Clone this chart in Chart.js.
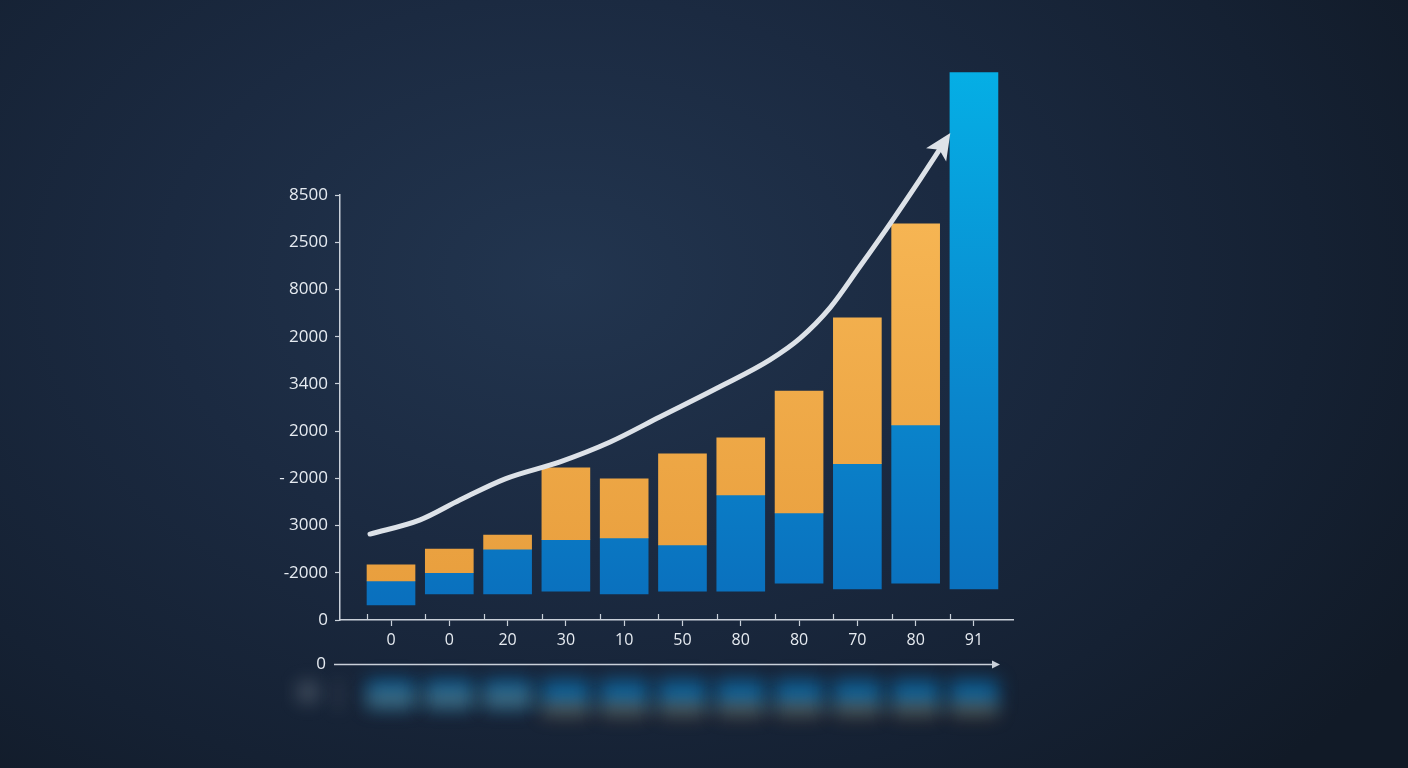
<!DOCTYPE html>
<html>
<head>
<meta charset="utf-8">
<script src="https://cdn.jsdelivr.net/npm/chart.js@4.4.1/dist/chart.umd.min.js"></script>
<style>
  html, body { margin: 0; padding: 0; }
  body {
    width: 1408px; height: 768px; overflow: hidden;
    background: radial-gradient(ellipse 1000px 700px at 40% 36%, #22354f 0%, #1b2a41 40%, #152133 75%, #111a27 100%);
  }
  #wrap { position: absolute; left: 0; top: 0; width: 1408px; height: 768px; }
</style>
</head>
<body>
<div id="wrap"><canvas id="growth"></canvas></div>
<script>
// category labels under the bars
const xLabels = ["0", "0", "20", "30", "10", "50", "80", "80", "70", "80", "91"];
// y tick labels, bottom to top (as printed)
const yTickLabels = ["0", "-2000", "3000", "- 2000", "2000", "3400", "2000", "8000", "2500", "8500"];

// floating bars, in y-tick units
const blueLow = [0.32, 0.55, 0.55, 0.61, 0.55, 0.61, 0.61, 0.78, 0.66, 0.78, 0.66];
const blueHigh = [0.83, 1.00, 1.50, 1.70, 1.74, 1.59, 2.65, 2.27, 3.31, 4.13, 11.59];
const orangeHigh = [1.17, 1.50, 1.80, 3.22, 2.99, 3.52, 3.86, 4.85, 6.40, 8.39, null];

// trend curve points
const trendX = [-0.36, 0.50, 1.18, 1.96, 2.90, 3.76, 4.61, 5.64, 6.50, 7.02, 7.53, 8.04, 8.56, 9.07, 9.52];
const trendY = [1.82, 2.12, 2.54, 2.99, 3.35, 3.77, 4.30, 4.94, 5.51, 5.97, 6.61, 7.48, 8.39, 9.32, 10.17];

const textColor = "#e6ebf1";
const axisColor = "#c9d0d9";

function blueFill(ctx) {
  const c = ctx.chart.ctx;
  const g = c.createLinearGradient(0, 60, 0, 610);
  g.addColorStop(0, "#05b0e6");
  g.addColorStop(0.6, "#0a87cd");
  g.addColorStop(1, "#0a6fbd");
  return g;
}
function orangeFill(ctx) {
  const c = ctx.chart.ctx;
  const g = c.createLinearGradient(0, 220, 0, 600);
  g.addColorStop(0, "#f6b553");
  g.addColorStop(1, "#e89e3d");
  return g;
}

// extras: arrow head, small upper ticks, lower arrow axis, blurred reflection
const decor = {
  id: "decor",
  beforeDatasetsDraw(chart) {
    const { ctx, chartArea } = chart;
    const blue = chart.getDatasetMeta(0).data;
    const orange = chart.getDatasetMeta(1).data;
    // reflection
    ctx.save();
    ctx.filter = "blur(9px)";
    const ry = chartArea.bottom + 60;
    blue.forEach(b => {
      ctx.globalAlpha = 0.6;
      ctx.fillStyle = "#0a86d0";
      ctx.fillRect(b.x - b.width / 2, ry, b.width, 28);
    });
    orange.forEach((b, i) => {
      if (b.skip) return;
      ctx.globalAlpha = i < 3 ? 0.3 : 0.35;
      ctx.fillStyle = "#c98f4a";
      ctx.fillRect(b.x - b.width / 2, ry + (i < 3 ? 12 : 22), b.width, 14);
    });
    ctx.globalAlpha = 0.25;
    ctx.fillStyle = "#c9d0d9";
    ctx.fillRect(chartArea.left - 42, ry + 2, 20, 20);
    ctx.fillRect(chartArea.left - 4, ry, 4, 30);
    ctx.restore();
  },
  afterDatasetsDraw(chart) {
    const { ctx, chartArea } = chart;
    const blue = chart.getDatasetMeta(0).data;
    // small ticks above the x axis at bar left edges
    ctx.save();
    ctx.strokeStyle = axisColor;
    ctx.lineWidth = 1.2;
    blue.forEach(b => {
      const x = Math.round(b.x - b.width / 2) + 0.5;
      ctx.beginPath();
      ctx.moveTo(x, chartArea.bottom);
      ctx.lineTo(x, chartArea.bottom - 6);
      ctx.stroke();
    });
    // lower arrow axis
    const ay = chartArea.bottom + 44.5;
    ctx.lineWidth = 1.5;
    ctx.beginPath();
    ctx.moveTo(chartArea.left - 6, ay);
    ctx.lineTo(chartArea.right - 16, ay);
    ctx.stroke();
    ctx.fillStyle = axisColor;
    ctx.beginPath();
    ctx.moveTo(chartArea.right - 13, ay);
    ctx.lineTo(chartArea.right - 21, ay - 4);
    ctx.lineTo(chartArea.right - 21, ay + 4);
    ctx.closePath();
    ctx.fill();
    ctx.fillStyle = textColor;
    ctx.font = "17px 'Open Sans'";
    ctx.textAlign = "right";
    ctx.textBaseline = "middle";
    ctx.fillText("0", chartArea.left - 14, ay);
    // arrow head on the trend curve
    const pts = chart.getDatasetMeta(2).data;
    const p1 = pts[pts.length - 2], p2 = pts[pts.length - 1];
    const ang = Math.atan2(p2.y - p1.y, p2.x - p1.x);
    const tipX = p2.x + Math.cos(ang) * 8, tipY = p2.y + Math.sin(ang) * 8;
    ctx.fillStyle = "#dde2e8";
    ctx.translate(tipX, tipY);
    ctx.rotate(ang);
    ctx.beginPath();
    ctx.moveTo(0, 0);
    ctx.lineTo(-26, -12);
    ctx.lineTo(-20, 0);
    ctx.lineTo(-26, 12);
    ctx.closePath();
    ctx.fill();
    ctx.restore();
  }
};

new Chart(document.getElementById("growth"), {
  type: "bar",
  data: {
    datasets: [
      {
        label: "blue",
        data: blueLow.map((v, i) => ({ x: i, y: [v, blueHigh[i]] })),
        backgroundColor: blueFill,
        barThickness: 48,
        grouped: false,
        clip: false,
        order: 2
      },
      {
        label: "orange",
        data: orangeHigh.map((v, i) => ({ x: i, y: v == null ? null : [blueHigh[i], v] })),
        backgroundColor: orangeFill,
        barThickness: 48,
        grouped: false,
        clip: false,
        order: 1
      },
      {
        type: "line",
        label: "trend",
        data: trendX.map((x, i) => ({ x: x, y: trendY[i] })),
        borderColor: "#dde2e8",
        borderWidth: 5,
        pointRadius: 0,
        tension: 0.4,
        cubicInterpolationMode: "monotone",
        borderCapStyle: "round",
        clip: false,
        order: 0
      }
    ]
  },
  options: {
    responsive: true,
    maintainAspectRatio: false,
    animation: false,
    layout: { padding: { left: 270, right: 395, top: 195, bottom: 108 } },
    plugins: { legend: { display: false }, tooltip: { enabled: false } },
    scales: {
      x: {
        type: "linear",
        offset: false,
        min: -0.875,
        max: 10.67,
        afterBuildTicks: s => { s.ticks = xLabels.map((_, i) => ({ value: i })); },
        afterFit: s => { s.height = 40; },
        grid: { offset: false, drawOnChartArea: false, color: axisColor, tickLength: 6, tickWidth: 1.2 },
        border: { color: axisColor, width: 1.5 },
        ticks: {
          color: textColor,
          font: { family: "Open Sans", size: 16 },
          padding: 5,
          maxRotation: 0,
          autoSkip: false,
          callback: v => xLabels[v]
        }
      },
      y: {
        min: 0,
        max: 9,
        afterBuildTicks: s => { s.ticks = yTickLabels.map((_, i) => ({ value: i })); },
        afterFit: s => { s.width = 70; },
        grid: { drawOnChartArea: false, color: axisColor, tickLength: 5, tickWidth: 1.2 },
        border: { color: axisColor, width: 1.5 },
        ticks: {
          color: textColor,
          font: { family: "Open Sans", size: 17 },
          padding: 7,
          callback: v => yTickLabels[v]
        }
      }
    }
  },
  plugins: [decor]
});
</script>
</body>
</html>
